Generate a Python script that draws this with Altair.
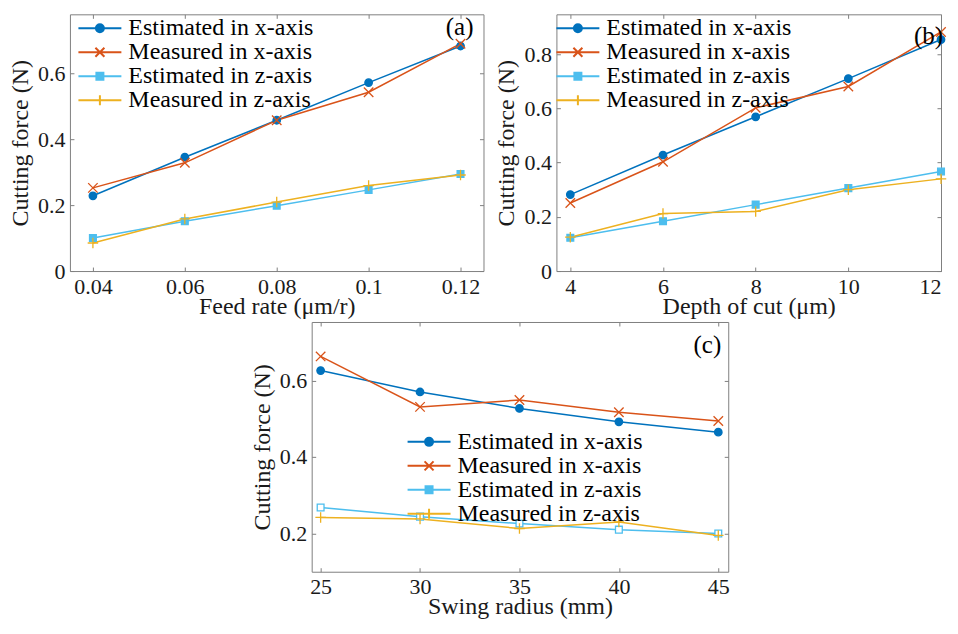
import altair as alt
import pandas as pd

FONT = "Liberation Serif"

series = ["Estimated in x-axis", "Measured in x-axis",
          "Estimated in z-axis", "Measured in z-axis"]
colors = ["#0072BD", "#D95319", "#4DBEEE", "#EDB120"]

# Panel (a): feed rate
feed = [0.04, 0.06, 0.08, 0.1, 0.12]
a_est_x = [0.228, 0.345, 0.457, 0.571, 0.682]
a_meas_x = [0.252, 0.328, 0.457, 0.542, 0.689]
a_est_z = [0.100, 0.151, 0.198, 0.246, 0.294]
a_meas_z = [0.085, 0.158, 0.209, 0.259, 0.291]

# Panel (b): depth of cut
depth = [4, 6, 8, 10, 12]
b_est_x = [0.282, 0.428, 0.569, 0.710, 0.854]
b_meas_x = [0.251, 0.403, 0.602, 0.681, 0.882]
b_est_z = [0.123, 0.184, 0.245, 0.306, 0.367]
b_meas_z = [0.125, 0.212, 0.220, 0.300, 0.340]

# Panel (c): swing radius
radius = [25, 30, 35, 40, 45]
c_est_x = [0.626, 0.570, 0.527, 0.492, 0.465]
c_meas_x = [0.663, 0.531, 0.549, 0.517, 0.494]
c_est_z = [0.268, 0.244, 0.226, 0.210, 0.200]
c_meas_z = [0.242, 0.238, 0.213, 0.230, 0.195]

a_xticks = [0.04, 0.06, 0.08, 0.1, 0.12]
a_yticks = [0, 0.2, 0.4, 0.6]
b_xticks = [4, 6, 8, 10, 12]
b_yticks = [0, 0.2, 0.4, 0.6, 0.8]
c_xticks = [25, 30, 35, 40, 45]
c_yticks = [0.2, 0.4, 0.6]

marker_shapes = ["circle", "M-1,-1L1,1M-1,1L1,-1", "square", "M-1,0H1M0,-1V1"]
marker_sizes = [56, 90, 46, 110]
marker_filled = [True, False, True, False]

# legend glyphs: line segment + marker (unit = 10 px with symbolSize 400)
legend_paths = [
    "M-2.15,0H2.15M0.4,0A0.4,0.4 0 1,1 -0.4,0A0.4,0.4 0 1,1 0.4,0Z",
    "M-2.15,0H2.15M-0.45,-0.45L0.45,0.45M-0.45,0.45L0.45,-0.45",
    "M-2.15,0H2.15M-0.35,-0.35H0.35V0.35H-0.35Z",
    "M-2.15,0H2.15M0,-0.5V0.5",
]

TXT = "#1a1a1a"
GRAY = "#7f7f7f"


def long_df(xs, cols):
    rows = []
    for s, vals in zip(series, cols):
        for x, v in zip(xs, vals):
            rows.append({"x": x, "y": v, "series": s})
    return pd.DataFrame(rows)


def panel(xs, cols, xdom, ydom, xticks, yticks, xtitle, w, h, tag, tagx, tagy,
          legx, legy, hollow=None, flush=False):
    df = long_df(xs, cols)
    base = alt.Chart(df)
    xsc = alt.Scale(domain=xdom, nice=False, zero=False)
    ysc = alt.Scale(domain=ydom, nice=False, zero=False)
    common = dict(labelFont=FONT, titleFont=FONT, labelFontSize=22,
                  titleFontSize=24, titleFontWeight="normal", labelColor=TXT,
                  titleColor=TXT, tickColor=GRAY, grid=False, domain=False,
                  offset=-4, tickSize=4)
    xkw = dict(values=xticks, format="~g", title=xtitle, orient="bottom",
               labelPadding=5, titlePadding=-3, **common)
    if flush:
        xkw["labelFlush"] = 3
    xax = alt.Axis(**xkw)
    yax = alt.Axis(values=yticks, format="~g", title="Cutting force (N)",
                   orient="left", labelPadding=5, titlePadding=5, **common)
    xtop = alt.Axis(values=xticks, orient="top", labels=False, title=None,
                    **common)
    yright = alt.Axis(values=yticks, orient="right", labels=False, title=None,
                      **common)

    lines = base.mark_line(strokeWidth=1.5).encode(
        x=alt.X("x:Q", scale=xsc, axis=xax),
        y=alt.Y("y:Q", scale=ysc, axis=yax),
        color=alt.Color("series:N", scale=alt.Scale(domain=series, range=colors),
                        legend=None),
    )
    layers = [lines]
    for i, s in enumerate(series):
        kw = dict(shape=marker_shapes[i], size=marker_sizes[i], opacity=1,
                  strokeWidth=1.3, stroke=colors[i])
        if hollow == i:
            kw["fill"] = "white"
            kw["filled"] = False
        elif marker_filled[i]:
            kw["fill"] = colors[i]
            kw["filled"] = True
        else:
            kw["filled"] = False
        ax_x = xtop if i == 0 else None
        ax_y = yright if i == 0 else None
        pts = base.transform_filter(alt.datum.series == s).mark_point(**kw).encode(
            x=alt.X("x:Q", scale=xsc, axis=ax_x),
            y=alt.Y("y:Q", scale=ysc, axis=ax_y),
        )
        layers.append(pts)

    leg = alt.Legend(title=None, orient="none", legendX=legx, legendY=legy,
                     symbolSize=400, symbolStrokeWidth=2, symbolOpacity=1,
                     labelFont=FONT, labelFontSize=24, labelColor="#000000",
                     labelLimit=400, rowPadding=-3.5, labelOffset=16.5, padding=0)
    legend_layer = base.mark_point(opacity=0, filled=True, strokeWidth=2).encode(
        x=alt.X("x:Q", scale=xsc, axis=None),
        y=alt.Y("y:Q", scale=ysc, axis=None),
        fill=alt.Fill("series:N", scale=alt.Scale(domain=series, range=colors), legend=leg),
        stroke=alt.Stroke("series:N", scale=alt.Scale(domain=series, range=colors), legend=leg),
        shape=alt.Shape("series:N", scale=alt.Scale(domain=series, range=legend_paths), legend=leg),
    )
    layers.append(legend_layer)

    tag_layer = alt.Chart(pd.DataFrame({"t": [tag]})).mark_text(
        font=FONT, fontSize=25, align="right", baseline="middle", color="#000000"
    ).encode(text="t:N", x=alt.value(w - tagx), y=alt.value(tagy))
    layers.append(tag_layer)

    return alt.layer(*layers).resolve_axis(x="independent", y="independent").properties(
        width=w, height=h)


pa = panel(feed, [a_est_x, a_meas_x, a_est_z, a_meas_z], [0.035, 0.125], [0, 0.778],
           a_xticks, a_yticks, "Feed rate (\u03bcm/r)", 414, 257, "(a)", 10, 13,
           18, 2)
pb = panel(depth, [b_est_x, b_meas_x, b_est_z, b_meas_z], [3.7, 12.0], [0, 0.947],
           b_xticks, b_yticks, "Depth of cut (\u03bcm)", 385, 257, "(b)", -2, 22,
           9.5, 2, flush=True)
pc = panel(radius, [c_est_x, c_meas_x, c_est_z, c_meas_z], [24.55, 45.5], [0.1, 0.753],
           c_xticks, c_yticks, "Swing radius (mm)", 417, 250, "(c)", 7, 23,
           105.5, 108, hollow=2)

spacer = alt.Chart(pd.DataFrame({"v": [0]})).mark_point(opacity=0).properties(
    width=179, height=250, view=alt.ViewConfig(stroke="transparent"))

top = alt.hconcat(pa, pb, spacing=10).resolve_scale(
    fill="independent", stroke="independent", shape="independent")
bottom = alt.hconcat(spacer, pc, spacing=0).resolve_scale(
    fill="independent", stroke="independent", shape="independent")
chart = alt.vconcat(top, bottom, spacing=2).resolve_scale(
    fill="independent", stroke="independent", shape="independent"
).properties(
    padding={"left": 0, "top": 5, "right": 0, "bottom": 0}
).configure_axis(
    labelFont=FONT, titleFont=FONT, labelFontSize=22, titleFontSize=24,
    titleFontWeight="normal", labelColor=TXT, titleColor=TXT,
    tickColor=GRAY, grid=False, domain=False,
).configure_view(stroke=GRAY, strokeWidth=1).configure_legend(
    labelFont=FONT
)

chart.save("out.html", embed_options={"renderer": "svg", "actions": False})
